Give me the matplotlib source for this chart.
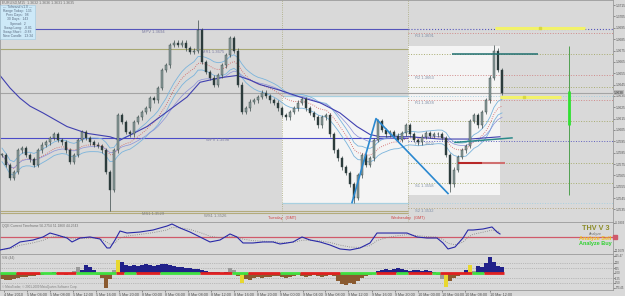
import numpy as np
import pandas as pd
import matplotlib
matplotlib.use('Agg')
import matplotlib.pyplot as plt
from matplotlib.patches import Rectangle

plt.rcParams['font.family'] = ['Liberation Sans', 'DejaVu Sans']

# ---- price data (EURUSD, one close per bar) ----
closes = [1.3583, 1.3574, 1.3563, 1.3568, 1.3587, 1.3589, 1.3583, 1.3579, 1.3574, 1.3587,
          1.3592, 1.3594, 1.3598, 1.3601, 1.3596, 1.3594, 1.3587, 1.3577, 1.3583, 1.3596,
          1.3603, 1.3598, 1.3594, 1.3592, 1.3591, 1.3587, 1.3568, 1.3552, 1.3587, 1.3618,
          1.3612, 1.3603, 1.3601, 1.3612, 1.3616, 1.3621, 1.3624, 1.3633, 1.3631, 1.3642,
          1.3658, 1.3662, 1.3680, 1.3682, 1.3680, 1.3682, 1.3677, 1.3674, 1.3675, 1.3693,
          1.3665, 1.3656, 1.3651, 1.3645, 1.3653, 1.3662, 1.3671, 1.3686, 1.3675, 1.3645,
          1.3621, 1.3624, 1.3630, 1.3631, 1.3634, 1.3638, 1.3635, 1.3631, 1.3629, 1.3624,
          1.3618, 1.3616, 1.3621, 1.3624, 1.3629, 1.3632, 1.3624, 1.3620, 1.3616, 1.3609,
          1.3616, 1.3618, 1.3601, 1.3587, 1.3580, 1.3572, 1.3567, 1.3557, 1.3545, 1.3565,
          1.3583, 1.3574, 1.3580, 1.3596, 1.3613, 1.3605, 1.3601, 1.3603, 1.3600, 1.3596,
          1.3602, 1.3609, 1.3601, 1.3596, 1.3594, 1.3599, 1.3602, 1.3600, 1.3601, 1.3601,
          1.3598, 1.3583, 1.3557, 1.3570, 1.3581, 1.3587, 1.3591, 1.3613, 1.3618, 1.3609,
          1.3621, 1.3631, 1.3651, 1.3675, 1.3658, 1.3638]
# long wicks that stand out
wick_high = {49: 1.3702, 123: 1.3680}
wick_low = {27: 1.3534, 88: 1.3541, 112: 1.3550}

# slow moving average (has history before the first visible bar)
slow_ma_bars = [-0.5, 2, 4.5, 7, 10.25, 13.25, 16.25, 21.25, 27, 29.5, 36.25, 42, 46.25, 49.5,
                54.5, 58.75, 62, 64.5, 69.5, 74.5, 79.5, 84.5, 88.75, 92, 94.5, 102, 109.5, 117, 124.5]
slow_ma = [1.3653, 1.3642, 1.3633, 1.3626, 1.3620, 1.3614, 1.3608, 1.3602, 1.3599, 1.3596,
           1.3608, 1.3623, 1.3634, 1.3647, 1.3651, 1.3653, 1.3649, 1.3645, 1.3640, 1.3634,
           1.3629, 1.3620, 1.3608, 1.3601, 1.3599, 1.3599, 1.3597, 1.3597, 1.3599]

# monthly / weekly pivots (left part of chart)
long_levels = [('MPV 1.3694', 1.3694, '#5555bb', 35),
               ('MR1 1.3675', 1.3676, '#a8a872', 50),
               ('WPV 1.3598', 1.3598, '#4b4bc8', 51)]
bottom_levels = [('MS1 1.3529', 1.3534, 35), ('WS1 1.3526', 1.3532, 50.5)]

# daily pivots of Wednesday
pivot_names = ['R3 1.3691', 'R2 1.3663', 'R1 1.3638', 'PP 1.3602', 'S1 1.3558', 'S2 1.3532']
pivot_vals = [1.3690, 1.3653, 1.3631, 1.3595, 1.3558, 1.3536]
pivot_cols = ['#d08a8a', '#d08a8a', '#d08a8a', '#6060c0', '#a8b070', '#b8a880']
mid_pivots = [1.3672, 1.3643, 1.3613, 1.3576]

# day ranges: (start bar, end bar, high, low)
day_ranges = [(70, 101.5, 1.3635, 1.3541), (101.5, 124.5, 1.3679, 1.3548)]
day_names = ['Tuesday   (GMT)', 'Wednesday   (GMT)']

# zigzag swing points
zz_bars = [87.5, 93.5, 111.5]
zz_vals = [1.3541, 1.3615, 1.3549]

# QQE style oscillator
osc_bars = [-0.5, 2, 4.5, 7.75, 10.25, 12, 13.75, 16.25, 17.5, 19.5, 22, 24.5, 26.25, 27, 28.25,
            29.5, 31.25, 34.5, 37.75, 41.25, 42.5, 44.5, 47, 49.5, 52, 54.5, 57, 58.75, 60.25,
            62.75, 65.25, 67.75, 69.5, 71.25, 72.75, 75, 77, 79.5, 82, 84.5, 87, 89.5, 92, 93.75,
            96.25, 98.75, 101.25, 103.75, 106.25, 108.75, 110.25, 111.5, 113.25, 115.25, 116.5,
            117.75, 120.25, 122.5, 123.75, 124.5]
osc_vals = [26.8, 30.4, 41.1, 44.6, 50, 57.1, 53.6, 48.2, 41.1, 48.2, 50, 46.4, 30.4, 30.4, 44.6,
            60.7, 57.1, 58.9, 62.5, 69.6, 73.2, 66.1, 58.9, 50, 41.1, 44.6, 55.4, 50, 39.3, 39.3,
            41.1, 41.1, 37.5, 39.3, 41.1, 50, 44.6, 41.1, 35.7, 28.6, 26.8, 30.4, 39.3, 57.1, 57.1,
            57.1, 57.1, 50, 48.2, 48.2, 39.3, 28.6, 32.1, 48.2, 62.5, 62.5, 64.3, 67.9, 58.9, 55.4]

# histogram indicator, one value per bar
hist = [-150, -175, -175, -150, -125, -100, -100, -75, -75, -50,
        -50, -25, -25, 25, -25, -25, -50, -25, 50, 150,
        75, 200, 150, 75, -50, -125, -375, -150, 75, 325,
        275, 200, 175, 200, 175, 200, 225, 200, 175, 200,
        225, 225, 200, 175, 150, 150, 125, 125, 100, 100,
        75, 50, 25, 25, 25, -25, 25, 125, 75, -75,
        -250, -150, -175, -125, -100, -125, -100, -100, -75, -75,
        -100, -125, -100, -75, -50, -75, -100, -75, -50, -75,
        -100, -75, -50, -75, -200, -275, -300, -250, -275, -200,
        -125, -75, -50, -25, 50, 75, 100, 75, 100, 125,
        100, 75, 50, 75, 75, 50, 75, 50, 25, -50,
        -150, -350, -200, -125, -75, -25, 75, 200, 50, 175,
        150, 250, 400, 275, 175, 150]
hist_gray = [18, 19, 28, 57, 58, 110, 118]
hist_yellow = [29, 60, 111, 117]
trend_segments = [(0, 4, 'g'), (4, 10, 'r'), (10, 14, 'g'), (14, 19, 'r'), (19, 29, 'g'),
                  (29, 31, 'r'), (31, 34, 'g'), (34, 40, 'r'), (40, 50, 'g'), (50, 58, 'r'),
                  (58, 62, 'g'), (62, 70, 'r'), (70, 75, 'g'), (75, 85, 'r'), (85, 94, 'g'),
                  (94, 99, 'r'), (99, 102, 'g'), (102, 108, 'r'), (108, 110, 'g'), (110, 118, 'r'),
                  (118, 121, 'g'), (121, 126, 'r')]

tick_bars = [0.5, 6.25, 12, 17.75, 23.5, 29.25, 35, 40.75, 46.5, 52.25, 58, 63.75, 69.5,
             75.25, 80.75, 86.5, 92.5, 98.25, 104, 110, 115.75, 122]
tick_labels = ['4 Mar 2010', '5 Mar 04:00', '5 Mar 08:00', '5 Mar 12:00', '5 Mar 16:00',
               '5 Mar 20:00', '8 Mar 00:00', '8 Mar 04:00', '8 Mar 08:00', '8 Mar 12:00',
               '8 Mar 16:00', '8 Mar 20:00', '9 Mar 00:00', '9 Mar 04:00', '9 Mar 08:00',
               '9 Mar 12:00', '9 Mar 16:00', '9 Mar 20:00', '10 Mar 00:00', '10 Mar 04:00',
               '10 Mar 08:00', '10 Mar 12:00']

info_lines = ['--- Tofnrand v1.0 ---', 'Range Today:  135', 'Prev Days:  98', '30 Days:  143',
              'Spread:  2', 'Swap Long:  -0.81', 'Swap Short:  -0.88', 'New Candle:  13:34']

BG = '#d9d9d9'
XMAX = 152.75
TXT = 3.0
AX_TXT = 2.3

fig = plt.figure(figsize=(6.25, 2.96), dpi=100, facecolor=BG)
W = 613 / 625
ax = fig.add_axes([0, 1 - 222 / 296, W, 222 / 296])
ax_osc = fig.add_axes([0, 1 - 254 / 296, W, 32 / 296], sharex=ax)
ax_h = fig.add_axes([0, 1 - 290 / 296, W, 36 / 296], sharex=ax)

for a in (ax, ax_osc, ax_h):
    a.set_facecolor(BG)
    for s in a.spines.values():
        s.set_color('#9a9a9a')
        s.set_linewidth(0.6)
    a.yaxis.tick_right()
    a.tick_params(axis='y', labelsize=AX_TXT, length=1.2, pad=0.4, colors='#505050', width=0.4)
    a.tick_params(axis='x', bottom=False, labelbottom=False)
ax.set_xlim(-0.5, XMAX)

# ---------------- main price panel ----------------
ax.set_ylim(1.35239, 1.37195)
ax.set_yticks(np.arange(1.3535, 1.3716, 0.001))
ax.yaxis.set_major_formatter(matplotlib.ticker.FormatStrFormatter('%.4f'))

# day range boxes and separators
for (b0, b1, hi, lo), name in zip(day_ranges, day_names):
    ax.add_patch(Rectangle((b0, lo), b1 - b0, hi - lo, facecolor='#f4f4f4', edgecolor='none', zorder=0))
    ax.axvline(b0, color='#a8a878', lw=0.6, ls=':', zorder=1)
    ax.text(b0, 1.3527, name, color='#d04040', fontsize=TXT - 0.3, ha='center', va='center')
tue = day_ranges[0]
for v in (tue[2], tue[3]):
    ax.hlines(v, tue[0], tue[1], color='#a8d0e0', lw=0.9, zorder=1)
    ax.hlines(v, tue[1], XMAX, color='#a8d0e0', lw=0.7, ls=':', zorder=1)

# long term levels
for name, v, c, lx in long_levels:
    ax.hlines(v, -0.5, 101.5, color=c, lw=0.8, zorder=1)
    ax.text(lx, v - 0.00005, name, color='#7a7aa0', fontsize=TXT, va='top')
ax.hlines(long_levels[0][1], 101.5, XMAX, color='#5555bb', lw=0.8, ls=':', zorder=1)
for name, v, lx in bottom_levels:
    ax.hlines(v, -0.5, 101.5, color='#b3ab7c', lw=0.8, zorder=1)
    ax.text(lx, v - 0.0001, name, color='#808080', fontsize=TXT, va='top')

# daily pivots
for name, v, c in zip(pivot_names, pivot_vals, pivot_cols):
    ax.hlines(v, 101.5, XMAX, color=c, lw=0.7, ls=':', zorder=1)
    ax.text(103.3, v - 0.00005, name, color='#8090a8', fontsize=TXT, va='top')
for v in mid_pivots:
    ax.hlines(v, 101.5, XMAX, color='#a8ac70', lw=0.7, ls=':', zorder=1)

# current price line
last = closes[-1]
ax.axhline(last, color='#a4a4a4', lw=0.8, zorder=1)
ax.text(1.001, last, '%.4f' % last, transform=ax.get_yaxis_transform(), fontsize=AX_TXT,
        va='center', ha='left', color='#303030',
        bbox=dict(boxstyle='square,pad=0.1', fc='#b8b8b8', ec='none'))

# moving averages
bars = np.arange(len(closes))
s = pd.Series(closes)
fast = s.ewm(span=14).mean()
mid = s.ewm(span=24).mean()
ax.plot(bars, fast, color='#d05a5a', lw=0.6, ls=':', zorder=2)
ax.plot(bars, fast + 0.0006, color='#7ab4dc', lw=0.6, zorder=2)
ax.plot(bars, fast - 0.0006, color='#7ab4dc', lw=0.6, zorder=2)
ax.plot(bars, mid, color='#8a90d8', lw=0.5, zorder=2)
ax.plot(slow_ma_bars, slow_ma, color='#4040b0', lw=0.8, zorder=2)

# candles
opens = [closes[0]] + closes[:-1]
hi = [max(o, c) + 0.0002 for o, c in zip(opens, closes)]
lo = [min(o, c) - 0.0002 for o, c in zip(opens, closes)]
for k, v in wick_high.items():
    hi[k] = v
for k, v in wick_low.items():
    lo[k] = v
ax.vlines(bars, lo, hi, color='#3a4848', lw=0.5, zorder=3)
body_lo = [min(o, c) for o, c in zip(opens, closes)]
body_h = [max(abs(c - o), 0.00005) for o, c in zip(opens, closes)]
body_c = ['#8a9c9a' if c >= o else '#2c3c3c' for o, c in zip(opens, closes)]
ax.bar(bars, body_h, bottom=body_lo, width=0.5, color=body_c, edgecolor='#304040',
       linewidth=0.3, zorder=4)

# zigzag
ax.plot(zz_bars, zz_vals, color='#2a88d0', lw=1.2, zorder=5)

# trade lines on the right
ax.hlines(1.3695, 123.25, 145.75, color='#f2f26a', lw=2.2, zorder=5)
ax.plot([134.5], [1.3695], marker='s', ms=2, color='#d8d840', zorder=6)
ax.hlines(1.3634, 124.5, 139.75, color='#f2f26a', lw=2.2, zorder=5)
ax.plot([130.5], [1.3634], marker='s', ms=2, color='#d8d840', zorder=6)
ax.hlines(1.3672, 112.5, 134, color='#1f6f6f', lw=1.1, zorder=5)
ax.plot([113.25, 127.5], [1.3594, 1.3598], color='#2a8a8a', lw=1.1, zorder=5)
ax.hlines(1.3576, 114, 120, color='#b82828', lw=1.5, zorder=5)
ax.hlines(1.3576, 120, 125.75, color='#d07070', lw=1.5, zorder=5)
ax.vlines(141.75, 1.3548, 1.3679, color='#50a050', lw=0.7, zorder=5)
ax.vlines(141.75, 1.3609, 1.3639, color='#30e030', lw=2, zorder=6)

# header and info box
ax.text(0.004, 0.988, 'EURUSD,M15  1.3632 1.3636 1.3631 1.3635', transform=ax.transAxes,
        fontsize=TXT - 0.4, color='#707070', va='center')
ax.add_patch(Rectangle((0, 0.824), 0.057, 0.153, transform=ax.transAxes, facecolor='#cde9f8',
                       edgecolor='#a0c8e0', lw=0.4, zorder=6))
for i, line in enumerate(info_lines):
    ax.text(0.0285, 0.968 - i * 0.0185, line, transform=ax.transAxes, fontsize=2.4,
            color='#5a6a80', ha='center', va='center', zorder=7)

# ---------------- oscillator panel ----------------
ax_osc.set_ylim(19.6, 76.8)
ax_osc.set_yticks([25.1678, 75.0803])
ax_osc.set_yticklabels(['25.1678', '75.0803'])
ax_osc.tick_params(axis='y', labelsize=2.0)
ax_osc.axhline(50, color='#d05a6a', lw=0.9, zorder=1)
sig = pd.Series(osc_vals).ewm(span=4).mean()
ax_osc.plot(osc_bars, sig, color='#808080', lw=0.6, ls=':', zorder=2)
ax_osc.plot(osc_bars, osc_vals, color='#2828a8', lw=0.8, zorder=3)
ax_osc.text(0.004, 0.86, 'QQE Current Timeframe 56.2754 51.1860 44.2543', transform=ax_osc.transAxes,
            fontsize=TXT - 0.6, color='#707070', va='center')
ax_osc.plot([1.004], [50], marker='s', ms=2.2, color='#d05a6a', transform=ax_osc.get_yaxis_transform(),
            clip_on=False, zorder=5)
ax_osc.text(0.972, 0.81, 'THV V 3', transform=ax_osc.transAxes, fontsize=5.2, fontweight='bold',
            color='#8c8c28', ha='center', va='center')
ax_osc.text(0.972, 0.63, 'Analyze', transform=ax_osc.transAxes, fontsize=2.6,
            color='#707070', ha='center', va='center')
ax_osc.text(0.971, 0.48, 'Analyze Sell', transform=ax_osc.transAxes, fontsize=4, fontweight='bold',
            color='#f0c020', ha='center', va='center')
ax_osc.text(0.971, 0.32, 'Analyze Buy', transform=ax_osc.transAxes, fontsize=4, fontweight='bold',
            color='#30d030', ha='center', va='center')

# ---------------- histogram panel ----------------
ax_h.set_ylim(-425, 475)
ax_h.set_yticks([425.47, 250, 125, 0, -125, -250, -373.45])
ax_h.set_yticklabels(['425.47', '250', '125', '0.00', '-125', '-250', '-373.45'])
ax_h.tick_params(axis='y', labelsize=2.0)
for v in (250, 125, -125, -250):
    ax_h.axhline(v, color='#9a9a9a', lw=0.5, ls=':', zorder=1)
hcol = ['#20208a' if v > 0 else '#8a5a30' for v in hist]
for k in hist_gray:
    hcol[k] = '#9a9a9a'
for k in hist_yellow:
    hcol[k] = '#e8d830'
ax_h.bar(np.arange(len(hist)), hist, width=1.0, color=hcol, zorder=2)
for b0, b1, c in trend_segments:
    ax_h.hlines(0, b0 - 0.5, b1 - 0.5, color='#e02020' if c == 'r' else '#40e040', lw=2, zorder=3)
ax_h.text(0.004, 0.9, 'VSI (44)', transform=ax_h.transAxes, fontsize=TXT - 0.6, color='#707070',
          va='center')
ax_h.text(0.004, 0.08, '\u00a9 MetaTrader, \u00a9 2001-2009 MetaQuotes Software Corp.', transform=ax_h.transAxes,
          fontsize=TXT - 0.8, color='#808080', va='center')
ax_h.tick_params(axis='x', bottom=True, labelbottom=True, labelsize=TXT - 0.3, length=1.5,
                 pad=0.8, colors='#505050', width=0.4)
ax_h.set_xticks(tick_bars)
ax_h.set_xticklabels(tick_labels, ha='left')

fig.savefig('out.png', dpi=100, facecolor=BG)
